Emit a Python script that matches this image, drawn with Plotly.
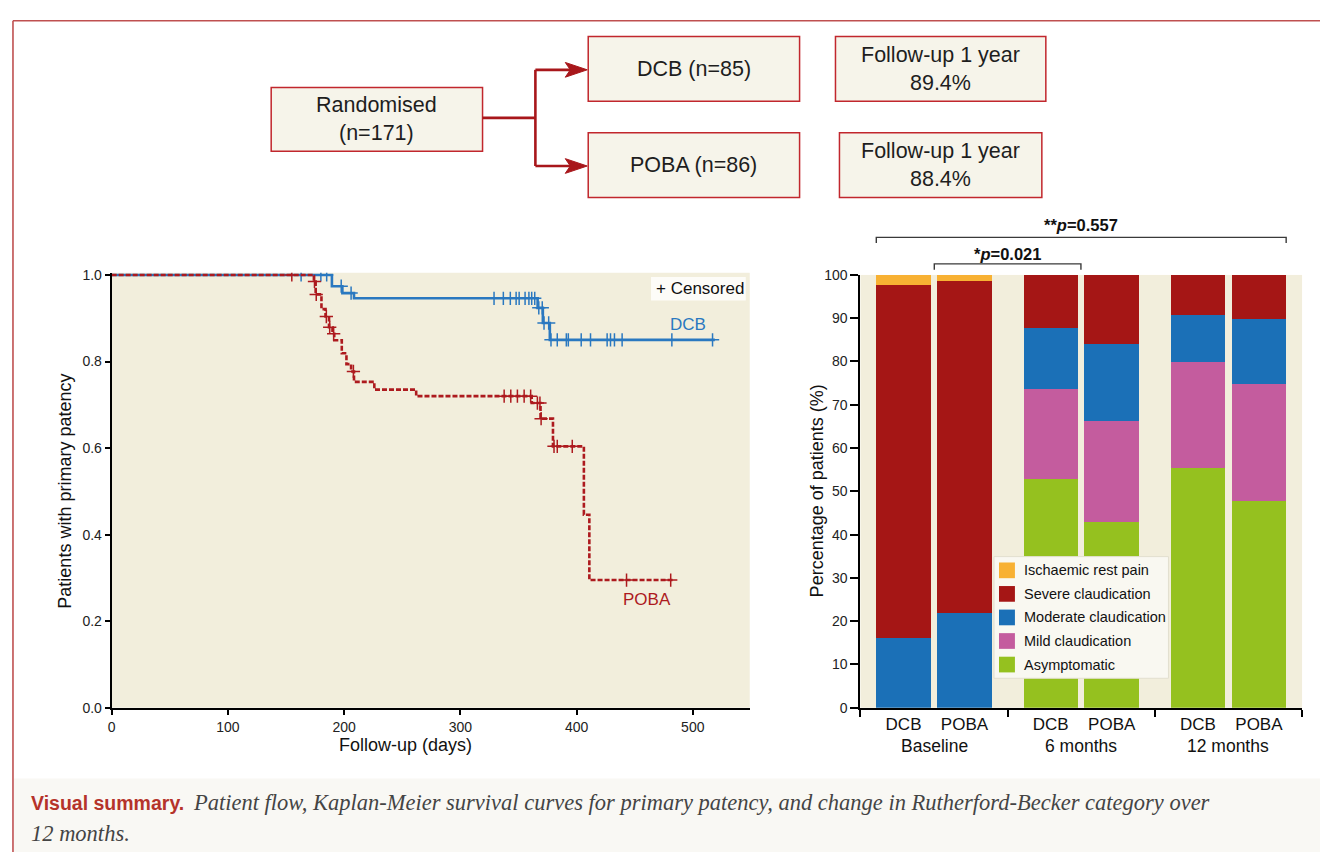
import plotly.graph_objects as go

W, H = 1320, 860


def px(x):
    return x / W


def py(y):
    return 1 - y / H


FONT = "Liberation Sans, Arial, sans-serif"
SERIF = "Liberation Serif, Times New Roman, serif"

# ---------------- data ----------------
# Kaplan-Meier: event times (days) and survival after each event
dcb_times = [189.5, 198.5, 208.5, 366.5, 371, 377]
dcb_surv = [0.974, 0.958, 0.946, 0.924, 0.889, 0.850]
dcb_end = 519
dcb_censor = [163, 180, 185, 197.5, 206, 329, 337, 343, 348, 350.6, 355.7, 359,
              361.4, 364, 367.5, 370.5, 372, 376, 378, 383.4, 391.2, 392.9, 404,
              412, 426.3, 429.2, 432.6, 439.2, 482, 517]

poba_times = [174, 175.5, 180.5, 184, 187, 190, 191.5, 198, 202, 206, 208.5, 226,
              262, 361.4, 369, 379.7, 406.3, 411]
poba_surv = [0.985, 0.955, 0.921, 0.904, 0.879, 0.864, 0.849, 0.819, 0.794, 0.777,
             0.753, 0.735, 0.720, 0.704, 0.668, 0.604, 0.446, 0.295]
poba_end = 484
poba_censor = [155, 174.5, 176, 184.7, 187.6, 191, 208, 337.7, 343.4, 349.1, 354.9,
               360.5, 366.3, 368.5, 369.5, 380.6, 383.4, 396.3, 443, 481]

km_xticks = [0, 100, 200, 300, 400, 500]
km_yticks = [0.0, 0.2, 0.4, 0.6, 0.8, 1.0]
km_yticklabels = ["0.0", "0.2", "0.4", "0.6", "0.8", "1.0"]

# Rutherford-Becker stacked bars
groups = ["Baseline", "6 months", "12 months"]
arms = ["DCB", "POBA"]
asymptomatic = [0, 0, 52.9, 42.9, 55.4, 47.7]
mild = [0, 0, 20.8, 23.3, 24.4, 27.1]
moderate = [16.0, 21.9, 14.0, 17.9, 11.0, 15.1]
severe = [81.6, 76.8, 12.3, 15.9, 9.2, 10.1]
ischaemic = [2.4, 1.3, 0, 0, 0, 0]
bar_yticks = list(range(0, 101, 10))

categories = ["Asymptomatic", "Mild claudication", "Moderate claudication",
              "Severe claudication", "Ischaemic rest pain"]
cat_values = [asymptomatic, mild, moderate, severe, ischaemic]
cat_colors = ["#95c11f", "#c45c9e", "#1b70b7", "#a51615", "#f8b133"]

p_overall = "**<i>p</i>=0.557"
p_baseline_6m = "*<i>p</i>=0.021"

flow_texts = ["Randomised<br>(n=171)", "DCB (n=85)", "POBA (n=86)",
              "Follow-up 1 year<br>89.4%", "Follow-up 1 year<br>88.4%"]

caption_head = "Visual summary."
caption_body = "Patient flow, Kaplan-Meier survival curves for primary patency, and change in Rutherford-Becker category over"
caption_tail = "12 months."

KM_BLUE = "#2a78c0"
KM_RED = "#ad1a1e"
BOX_RED = "#c1272d"
ARROW_RED = "#a8171b"


def level_at(t, times, surv):
    s = 1.0
    for ti, si in zip(times, surv):
        if ti <= t:
            s = si
    return s


fig = go.Figure()

# ---------------- KM curves ----------------
fig.add_trace(go.Scatter(
    x=[0] + dcb_times + [dcb_end], y=[1.0] + dcb_surv + [dcb_surv[-1]],
    mode="lines", line=dict(color=KM_BLUE, width=2.6, shape="hv"),
    xaxis="x", yaxis="y", showlegend=False, hoverinfo="skip"))
fig.add_trace(go.Scatter(
    x=dcb_censor, y=[level_at(t, dcb_times, dcb_surv) for t in dcb_censor],
    mode="markers", marker=dict(symbol="cross-thin", size=9.5,
                                line=dict(color=KM_BLUE, width=1.5)),
    xaxis="x", yaxis="y", showlegend=False, hoverinfo="skip"))
fig.add_trace(go.Scatter(
    x=[0] + poba_times + [poba_end], y=[1.0] + poba_surv + [poba_surv[-1]],
    mode="lines", line=dict(color=KM_RED, width=2.6, shape="hv", dash="5px,2px"),
    xaxis="x", yaxis="y", showlegend=False, hoverinfo="skip"))
fig.add_trace(go.Scatter(
    x=poba_censor, y=[level_at(t, poba_times, poba_surv) for t in poba_censor],
    mode="markers", marker=dict(symbol="cross-thin", size=9.5,
                                line=dict(color=KM_RED, width=1.5)),
    xaxis="x", yaxis="y", showlegend=False, hoverinfo="skip"))

# ---------------- stacked bars ----------------
ARM_OFFSET = 0.207
BAR_W = 0.37
bar_x = []
bar_lbl = []
for gi, g in enumerate(groups):
    for ai, a in enumerate(arms):
        bar_x.append(gi + (ARM_OFFSET if ai == 1 else -ARM_OFFSET))
        bar_lbl.append(a)

for name, vals, col in zip(categories, cat_values, cat_colors):
    fig.add_trace(go.Bar(
        x=bar_x, y=vals, width=BAR_W, marker=dict(color=col, line=dict(width=0)),
        name=name, xaxis="x2", yaxis="y2", showlegend=False, hoverinfo="skip"))

shapes = []
annotations = []


def label(x, y, text, size, color="#111", family=FONT, xanchor="center",
          xref="paper", angle=0):
    annotations.append(dict(x=x, y=y, xref=xref, yref="paper", text=text,
                            showarrow=False, xanchor=xanchor, yanchor="middle",
                            textangle=angle,
                            font=dict(family=family, size=size, color=color)))


# frame and caption band
shapes.append(dict(type="rect", xref="paper", yref="paper", x0=px(10), x1=1,
                   y0=0, y1=py(785), fillcolor="#f9f8f4", line=dict(width=0), layer="below"))
shapes.append(dict(type="line", xref="paper", yref="paper", x0=px(9), x1=1,
                   y0=py(13), y1=py(13), line=dict(color="#bf5050", width=1.6)))
shapes.append(dict(type="line", xref="paper", yref="paper", x0=px(9), x1=px(9),
                   y0=py(13), y1=0, line=dict(color="#bf5050", width=1.6)))

# flow boxes
flow_boxes = [(268, 81, 480, 146), (586, 29, 798, 95), (586, 127, 798, 193),
              (834, 29, 1045, 95), (838, 127, 1041, 193)]
for (x0, y0, x1, y1), txt in zip(flow_boxes, flow_texts):
    shapes.append(dict(type="rect", xref="paper", yref="paper", x0=px(x0), x1=px(x1),
                       y0=py(y1), y1=py(y0), fillcolor="#f6f4ea",
                       line=dict(color=BOX_RED, width=1.5)))
    label(px((x0 + x1) / 2), py((y0 + y1) / 2), txt, 21.5, color="#1e1e1e")

# connectors and arrows
conn = [((480, 112), (533, 112)), ((533, 63), (533, 161)),
        ((533, 63), (570, 63)), ((533, 161), (570, 161))]
for (xa, ya), (xb, yb) in conn:
    shapes.append(dict(type="line", xref="paper", yref="paper", x0=px(xa), y0=py(ya),
                       x1=px(xb), y1=py(yb), line=dict(color=ARROW_RED, width=2.6)))
for yc in (63, 161):
    path = (f"M {px(585)},{py(yc)} L {px(563)},{py(yc - 7.5)} "
            f"L {px(568)},{py(yc)} L {px(563)},{py(yc + 7.5)} Z")
    shapes.append(dict(type="path", xref="paper", yref="paper", path=path,
                       fillcolor=ARROW_RED, line=dict(color=ARROW_RED, width=1)))

# KM annotations
shapes.append(dict(type="rect", xref="paper", yref="paper", x0=px(649), x1=px(744),
                   y0=py(298), y1=py(274), fillcolor="#fdfcf8", line=dict(width=0)))
label(px(652), py(286), "+ Censored", 17, xanchor="left")
label(px(686), py(323), "DCB", 17, color=KM_BLUE)
label(px(645), py(603), "POBA", 17, color=KM_RED)
label(px(403), py(751), "Follow-up (days)", 18)
label(px(61), py(492), "Patients with primary patency", 18, angle=-90)

# bar chart annotations
label(px(815), py(492), "Percentage of patients (%)", 18, angle=-90)
for gi, g in enumerate(groups):
    label(gi, py(752), g, 17.5, xref="x2")

# p-value brackets
left_all = bar_x[0] - BAR_W / 2
right_all = bar_x[-1] + BAR_W / 2
left_b = bar_x[1] - BAR_W / 2 - 0.02
right_b = bar_x[2] + BAR_W / 2 + 0.02
for (xl, xr, ytop, ybot) in [(left_all, right_all, 233.7, 239.5),
                             (left_b, right_b, 260.7, 266.7)]:
    shapes.append(dict(type="path", xref="x2", yref="paper",
                       path=f"M {xl},{py(ybot)} L {xl},{py(ytop)} L {xr},{py(ytop)} L {xr},{py(ybot)}",
                       line=dict(color="#3a3a3a", width=1.4)))
label((left_all + right_all) / 2, py(221), "<b>" + p_overall + "</b>", 16.5, xref="x2")
label((left_b + right_b) / 2, py(251), "<b>" + p_baseline_6m + "</b>", 16.5, xref="x2")

# legend (drawn from the category list)
shapes.append(dict(type="rect", xref="paper", yref="paper", x0=px(993), x1=px(1168),
                   y0=py(683), y1=py(559), fillcolor="#f9f8f1",
                   line=dict(color="#e2dfcf", width=1)))
for i, (name, col) in enumerate(zip(categories[::-1], cat_colors[::-1])):
    yc = 573 + 24 * i
    shapes.append(dict(type="rect", xref="paper", yref="paper", x0=px(998), x1=px(1014),
                       y0=py(yc + 8), y1=py(yc - 8), fillcolor=col, line=dict(width=0)))
    label(px(1021), py(yc), name, 14.5, xanchor="left")

# caption
label(px(25), py(810), "<b>" + caption_head + "</b>", 19.5, color="#b5332a", xanchor="left")
label(px(188), py(810), "<i>" + caption_body + "</i>", 22.5, color="#444",
      family=SERIF, xanchor="left")
label(px(25), py(841), "<i>" + caption_tail + "</i>", 22.5, color="#444",
      family=SERIF, xanchor="left")

axis_common = dict(showgrid=False, zeroline=False, showline=True, linewidth=2,
                   linecolor="black", ticks="outside", tickcolor="black",
                   tickwidth=1.5, fixedrange=True)
TICKFONT = dict(family=FONT, size=14, color="#222")

fig.update_layout(
    width=W, height=H, margin=dict(l=0, r=0, t=0, b=0),
    paper_bgcolor="white", plot_bgcolor="#f2eedc",
    barmode="stack", showlegend=False,
    xaxis=dict(domain=[px(108), px(748)], range=[0, 549], tickvals=km_xticks,
               ticklen=5, anchor="y", tickfont=TICKFONT, **axis_common),
    yaxis=dict(domain=[py(713), py(269.8)], range=[0, 1.005], tickvals=km_yticks,
               ticktext=km_yticklabels, ticklen=5, anchor="x", tickfont=TICKFONT,
               **axis_common),
    xaxis2=dict(domain=[px(859), px(1302)], range=[-0.5, 2.5], tickvals=bar_x,
                ticktext=bar_lbl, anchor="y2",
                tickfont=dict(family=FONT, size=17, color="#111"),
                showgrid=False, zeroline=False, showline=True, linewidth=2,
                linecolor="black", ticks="", fixedrange=True,
                minor=dict(tickmode="array", tickvals=[-0.5, 0.5, 1.5, 2.5],
                           ticks="outside", ticklen=7, tickwidth=2, tickcolor="black",
                           showgrid=False)),
    yaxis2=dict(domain=[py(713), py(272)], range=[0, 100], tickvals=bar_yticks,
                ticklen=8, anchor="x2", tickfont=TICKFONT, **axis_common),
    shapes=shapes, annotations=annotations,
)

fig.write_html("out.html")
